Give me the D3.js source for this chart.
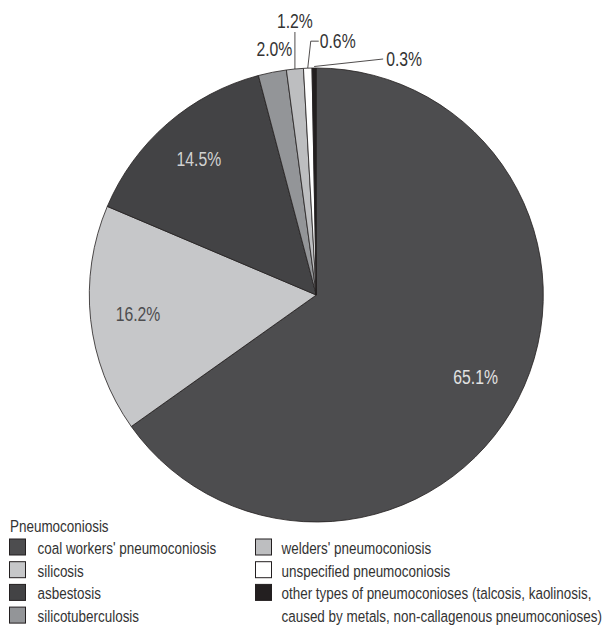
<!DOCTYPE html>
<html>
<head>
<meta charset="utf-8">
<script src="https://cdn.jsdelivr.net/npm/d3@7"></script>
<style>
  html, body { margin: 0; padding: 0; background: #fff; }
  svg { display: block; }
  text { font-family: "Liberation Sans", Arial, sans-serif; }
</style>
</head>
<body>
<svg id="chart" width="604" height="627"></svg>
<script>
// Share of pneumoconiosis cases by type (%)
const categories = [
  "coal workers' pneumoconiosis",
  "silicosis",
  "asbestosis",
  "silicotuberculosis",
  "welders' pneumoconiosis",
  "unspecified pneumoconiosis",
  "other types of pneumoconioses (talcosis, kaolinosis, caused by metals, non-callagenous pneumoconioses)"
];
const shares = [65.1, 16.2, 14.5, 2.0, 1.2, 0.6, 0.3];
const fills = ["#4d4d4f", "#c6c7c9", "#434345", "#939598", "#bdbec0", "#ffffff", "#231f20"];
const legendLines = [
  ["coal workers' pneumoconiosis"],
  ["silicosis"],
  ["asbestosis"],
  ["silicotuberculosis"],
  ["welders' pneumoconiosis"],
  ["unspecified pneumoconiosis"],
  ["other types of pneumoconioses (talcosis, kaolinosis,", "caused by metals, non-callagenous pneumoconioses)"]
];
const legendTitle = "Pneumoconiosis";

const ink = "#231f20";
const textInk = "#333333";
const svg = d3.select("#chart");
const cx = 316.3, cy = 295, R = 227;

// Condensed type: regular face squeezed horizontally
const labelSize = 19.5, legendSize = 17;
function naturalWidth(str, size) {
  const t = svg.append("text").attr("font-size", size).text(str);
  const w = t.node().getComputedTextLength();
  t.remove();
  return w;
}
const kLabel = 44.7 / naturalWidth("65.1%", labelSize);
const kLegend = 179 / naturalWidth("coal workers' pneumoconiosis", legendSize);

function ctext(parent, x, y, str, size, k) {
  return parent.append("text")
    .attr("transform", `translate(${x},${y}) scale(${k},1)`)
    .attr("font-size", size)
    .text(str);
}

const pie = d3.pie().sort(null).value(d => d.v);
const arcs = pie(shares.map((v, i) => ({ v, i })));
const arc = d3.arc().innerRadius(0).outerRadius(R);

const g = svg.append("g").attr("transform", `translate(${cx},${cy})`);

g.selectAll("path.slice")
  .data(arcs)
  .join("path")
  .attr("class", "slice")
  .attr("d", arc)
  .attr("fill", d => fills[d.data.i])
  .attr("stroke", ink)
  .attr("stroke-width", 0.8)
  .attr("stroke-linejoin", "round");

const fmt = v => v.toFixed(1) + "%";

// Labels inside the three large slices
const inside = [
  { i: 0, color: "#e2e2e2" },
  { i: 1, color: "#4d4d4f" },
  { i: 2, color: "#d2d2d2" }
];
const inArc = d3.arc().innerRadius(R * 0.79).outerRadius(R * 0.79);
inside.forEach(o => {
  const [x, y] = inArc.centroid(arcs[o.i]);
  ctext(g, x, y, fmt(shares[o.i]), labelSize, kLabel)
    .attr("text-anchor", "middle")
    .attr("dominant-baseline", "central")
    .attr("fill", o.color);
});

// Labels for the thin slices, with leader lines from the rim
const rimPoint = (a, r) => {
  const t = (a.startAngle + a.endAngle) / 2;
  return [r * Math.sin(t), -r * Math.cos(t)];
};
const leaderG = g.append("g")
  .attr("fill", "none")
  .attr("stroke", ink)
  .attr("stroke-width", 0.8);

// 2.0% : plain label just outside the rim
{
  const [x, y] = rimPoint(arcs[3], R + 15);
  ctext(g, x + 5, y - 2, fmt(shares[3]), labelSize, kLabel)
    .attr("text-anchor", "middle")
    .attr("fill", textInk);
}
// 1.2% : vertical leader, label above
{
  const [x0, y0] = rimPoint(arcs[4], R);
  const y1 = y0 - 37;
  leaderG.append("path").attr("d", d3.line()([[x0, y0], [x0, y1]]));
  ctext(g, x0, y1 - 4, fmt(shares[4]), labelSize, kLabel)
    .attr("text-anchor", "middle")
    .attr("fill", textInk);
}
// 0.6% : elbow leader, label to the right
{
  const [x0, y0] = rimPoint(arcs[5], R);
  const p1 = [x0 + 3, y0 - 27], p2 = [x0 + 11, y0 - 27];
  leaderG.append("path").attr("d", d3.line()([[x0, y0], p1, p2]));
  ctext(g, p2[0] + 1, p2[1], fmt(shares[5]), labelSize, kLabel)
    .attr("dominant-baseline", "central")
    .attr("fill", textInk);
}
// 0.3% : slanted leader, label to the right
{
  const [x0, y0] = rimPoint(arcs[6], R + 1.5);
  const p1 = [x0 + 69, y0 - 7.5];
  leaderG.append("path").attr("d", d3.line()([[x0, y0], p1]));
  ctext(g, p1[0] + 3, p1[1], fmt(shares[6]), labelSize, kLabel)
    .attr("dominant-baseline", "central")
    .attr("fill", textInk);
}

// Legend
const leg = svg.append("g").attr("fill", textInk);
ctext(leg, 10, 531.5, legendTitle, legendSize, kLegend);

const rowTop = 539, rowStep = 22.7, box = 16;
const cols = [{ sx: 9.5, tx: 37.5 }, { sx: 255.5, tx: 281.5 }];
categories.forEach((c, i) => {
  const col = i < 4 ? cols[0] : cols[1];
  const row = i < 4 ? i : i - 4;
  const top = rowTop + row * rowStep;
  leg.append("rect")
    .attr("x", col.sx).attr("y", top)
    .attr("width", box).attr("height", box)
    .attr("fill", fills[i])
    .attr("stroke", ink)
    .attr("stroke-width", 1);
  legendLines[i].forEach((line, k) => {
    ctext(leg, col.tx, top + 15 + k * rowStep, line, legendSize, kLegend);
  });
});
</script>
</body>
</html>
